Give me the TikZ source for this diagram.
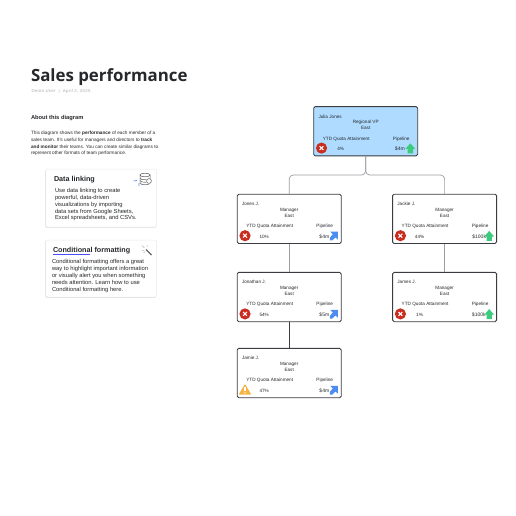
\documentclass[tikz,border=0pt]{standalone}
\usepackage{fontspec}
\setmainfont{Liberation Sans}
\newfontfamily\titlefont{Open Sans}
\newfontfamily\metafont[LetterSpace=8]{Liberation Sans}
\usetikzlibrary{calc,shadows}
\definecolor{edge}{HTML}{3A3D42}
\definecolor{linegrey}{HTML}{9A9DA1}
\definecolor{topfill}{HTML}{AEDBFF}
\definecolor{xred}{HTML}{C92D1F}
\definecolor{upgreen}{HTML}{3ACB7C}
\definecolor{diagblue}{HTML}{4D8DF2}
\definecolor{warn}{HTML}{F5B544}
\definecolor{dimtext}{HTML}{A9ABAE}
\definecolor{inktext}{HTML}{26282B}
\newcommand{\fs}[1]{\fontsize{#1}{#1}\selectfont}
\tikzset{
  x=1pt,y=-1pt,
  every node/.style={inner sep=0pt,outer sep=0pt,text=inktext},
  person/.style={draw=edge,line width=0.9pt,rounded corners=1.5pt,fill=white,minimum width=104pt,minimum height=49.3pt},
  persontext/.style={font=\fs{4.65}},
  valuetext/.style={font=\fs{5}},
  leftlabel/.style={font=\fs{4.72},anchor=west},
  linktext/.style={font=\fs{5.8},anchor=west},
  card/.style={draw=black!8,line width=0.5pt,rounded corners=2pt,fill=white,drop shadow={shadow xshift=-0.5pt,shadow yshift=-0.7pt,opacity=0.18,fill=black}},
  wire/.style={draw=linegrey,line width=0.7pt,rounded corners=4pt},
  darkwire/.style={draw=edge,line width=0.9pt},
}
\newcommand{\badx}[1]{%
  \fill[xred] (#1) circle (5.6);
  \draw[white,line width=1.1pt] ($(#1)+(-1.9,-1.9)$) -- ($(#1)+(1.9,1.9)$) ($(#1)+(-1.9,1.9)$) -- ($(#1)+(1.9,-1.9)$);}
\newcommand{\goodup}[1]{%
  \fill[upgreen] ($(#1)+(0,-5)$) -- ($(#1)+(4.9,0.6)$) -- ($(#1)+(2.7,0.6)$) -- ($(#1)+(2.7,5)$) -- ($(#1)+(-2.7,5)$) -- ($(#1)+(-2.7,0.6)$) -- ($(#1)+(-4.9,0.6)$) -- cycle;}
\newcommand{\diag}[1]{%
  \fill[diagblue] ($(#1)+(4,-4.2)$) -- ($(#1)+(4,3.6)$) -- ($(#1)+(1.7,1.4)$) -- ($(#1)+(-1.4,4.4)$) -- ($(#1)+(-4,4.4)$) -- ($(#1)+(-4,1.9)$) -- ($(#1)+(-1,-1.7)$) -- ($(#1)+(-3.4,-4.2)$) -- cycle;}
\newcommand{\warnicon}[1]{%
  \fill[warn,rounded corners=0.8pt] ($(#1)+(0,-6)$) -- ($(#1)+(6.3,4.6)$) -- ($(#1)+(-6.3,4.6)$) -- cycle;
  \fill[white] ($(#1)+(-0.6,-2.6)$) rectangle ($(#1)+(0.6,1.4)$);
  \fill[white] ($(#1)+(0,3)$) circle (0.7);}
\newcommand{\personbox}[9]{%
  \node[person,anchor=north west,#9] (#1) at (#2,#3) {};
  \node[persontext,anchor=west] (#1name) at ($(#1.north west)+(4.8,9.8)$) {#4};
  \node[persontext] (#1role) at ($(#1.north west)+(52,15.7)$) {#5};
  \node[persontext] (#1region) at ($(#1.north west)+(52,21.7)$) {East};
  \node[persontext] (#1ytd) at ($(#1.north west)+(32.5,32.3)$) {YTD Quota Attainment};
  \node[persontext] (#1pipe) at ($(#1.north west)+(87.5,32.3)$) {Pipeline};
  \node[persontext] (#1pct) at ($(#1.north west)+(27,42.7)$) {#6};
  \node[valuetext,anchor=east] (#1val) at ($(#1.north west)+(#8,42.7)$) {#7};
  \coordinate (#1icon) at ($(#1.north west)+(7.8,41.5)$);
  \coordinate (#1arrow) at ($(#1.north west)+(96.6,41.7)$);}
\begin{document}
\begin{tikzpicture}
\useasboundingbox (0,0) rectangle (516,516);
\fill[white] (0,0) rectangle (516,516);

\node[anchor=west,font=\titlefont\bfseries\fs{16.85}] (title) at (31,77) {Sales performance};
\node[anchor=west,font=\metafont\fs{4.3},text=dimtext] (meta) at (31.5,91) {Demo User \ \textbar\ \ April 2, 2025};

\node[anchor=west,font=\bfseries\fs{5.75}] (about) at (31,118.5) {About this diagram};
\node[leftlabel] (p1) at (31,133.3) {This diagram shows the \textbf{performance} of each member of a};
\node[leftlabel] (p2) at (31,140.2) {sales team. It's useful for managers and directors to \textbf{track}};
\node[leftlabel] (p3) at (31,146.9) {\textbf{and monitor} their teams. You can create similar diagrams to};
\node[leftlabel] (p4) at (31,153.6) {represent other formats of team performance.};

\node[card,anchor=north west,minimum width=111pt,minimum height=58pt] (card1) at (45.7,169) {};
\node[card,anchor=north west,minimum width=111pt,minimum height=57pt] (card2) at (45.7,240) {};

\node[anchor=west,font=\bfseries\fs{7.2}] (t1) at (54,179.7) {Data linking};
\node[linktext] (a1) at (55,191.4) {Use data linking to create};
\node[linktext] (a2) at (55,198.2) {powerful, data-driven};
\node[linktext] (a3) at (55,204.9) {visualizations by importing};
\node[linktext] (a4) at (55,211.7) {data sets from Google Sheets,};
\node[linktext] (a5) at (55,218.4) {Excel spreadsheets, and CSVs.};

\node[anchor=west,font=\bfseries\fs{7.2}] (t2) at (53,250.2) {Conditional formatting};
\draw[draw=blue!70!white,line width=0.6pt] (53,253.8) -- (90,253.8);
\node[linktext] (b1) at (52,262.4) {Conditional formatting offers a great};
\node[linktext] (b2) at (52,269.1) {way to highlight important information};
\node[linktext] (b3) at (52,275.9) {or visually alert you when something};
\node[linktext] (b4) at (52,282.7) {needs attention. Learn how to use};
\node[linktext] (b5) at (52,289.5) {Conditional formatting here.};

% database icon
\begin{scope}[draw=black!65,line width=0.5pt]
\draw (145,175) ellipse (5 and 1.8);
\draw (140,175) -- (140,183) .. controls (140.5,185.4) and (149.5,185.4) .. (150,183) -- (150,175);
\draw (140,178) .. controls (140.5,180.4) and (149.5,180.4) .. (150,178);
\draw (140,180.5) .. controls (140.5,182.9) and (149.5,182.9) .. (150,180.5);
\fill[white] (149,181) circle (3);
\draw (149,181) circle (2.4);
\end{scope}
\draw[diagblue,line width=0.7pt] (137,180.5) -- (133.5,181) (139,183) -- (139,186);
% wand icon
\draw[black!60,line width=1.1pt] (146,249.5) -- (151.5,255);
\draw[black!30,line width=0.5pt] (142,245.5) -- (144.5,248) (147,245) -- (147,247) (142,250.5) -- (144,250.5) (143.5,253) -- (145,251.5);

% people
\personbox{julia}{313.7}{106.6}{Julia Jones}{Regional VP}{4\%}{\$4m}{91}{fill=topfill}
\personbox{jones}{237.2}{194.2}{Jones J.}{Manager}{10\%}{\$4m}{92}{}
\personbox{jackie}{392.6}{194.2}{Jackie J.}{Manager}{44\%}{\$100k}{93.4}{}
\personbox{jonathan}{237.2}{272.4}{Jonathan J.}{Manager}{54\%}{\$5m}{92}{}
\personbox{james}{392.6}{272.4}{James J.}{Manager}{1\%}{\$100k}{93}{}
\personbox{jamie}{237.2}{348.4}{Jamie J.}{Manager}{47\%}{\$4m}{92}{}

\coordinate (level) at (0,175);
\coordinate (bus) at (julia.south |- level);
\draw[wire] (julia.south) -- (bus) -| (jones.north);
\draw[wire] (julia.south) -- (bus) -| (jackie.north);
\draw[wire] (jones.south) -- (jonathan.north);
\draw[wire] (jackie.south) -- (james.north);
\draw[darkwire] (jonathan.south) -- (jamie.north);

\badx{juliaicon}\goodup{juliaarrow}
\badx{jonesicon}\diag{jonesarrow}
\badx{jackieicon}\goodup{jackiearrow}
\badx{jonathanicon}\diag{jonathanarrow}
\badx{jamesicon}\goodup{jamesarrow}
\warnicon{jamieicon}\diag{jamiearrow}
\end{tikzpicture}
\end{document}
